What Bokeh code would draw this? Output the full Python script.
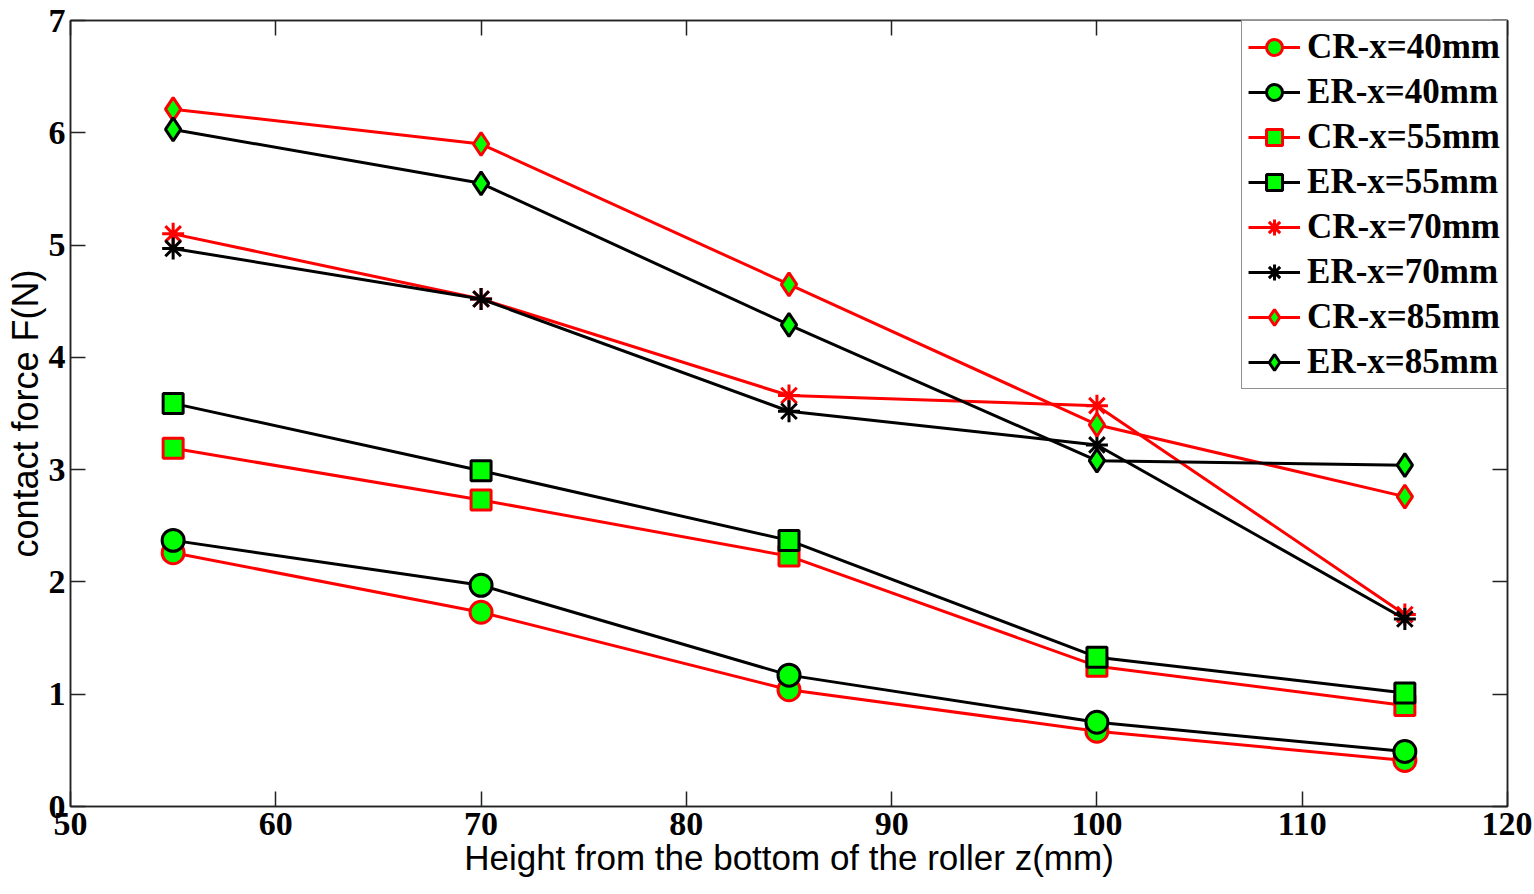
from bokeh.plotting import figure
from bokeh.models import Range1d, FixedTicker, LinearAxis, Legend, LegendItem
from bokeh.embed import file_html
from bokeh.resources import INLINE

z = [55, 70, 85, 100, 115]
cr40 = [2.26, 1.73, 1.04, 0.67, 0.41]
er40 = [2.37, 1.97, 1.17, 0.75, 0.49]
cr55 = [3.19, 2.73, 2.23, 1.25, 0.90]
er55 = [3.59, 2.99, 2.37, 1.33, 1.01]
cr70 = [5.10, 4.52, 3.66, 3.57, 1.71]
er70 = [4.97, 4.52, 3.52, 3.22, 1.67]
cr85 = [6.21, 5.90, 4.65, 3.40, 2.76]
er85 = [6.03, 5.55, 4.29, 3.08, 3.04]

names = ["CR-x=40mm", "ER-x=40mm", "CR-x=55mm", "ER-x=55mm",
         "CR-x=70mm", "ER-x=70mm", "CR-x=85mm", "ER-x=85mm"]
series = [cr40, er40, cr55, er55, cr70, er70, cr85, er85]
markers = ["circle", "circle", "square", "square", "asterisk", "asterisk", "diamond", "diamond"]
sizes = [22, 22, 20, 20, 22, 22, 23, 23]
colors = ["#FF0000", "#000000"] * 4

x_ticks = [50, 60, 70, 80, 90, 100, 110, 120]
y_ticks = [0, 1, 2, 3, 4, 5, 6, 7]

p = figure(width=1532, height=892, output_backend="svg", toolbar_location=None,
           x_range=Range1d(50, 120), y_range=Range1d(0, 7),
           min_border_left=70, min_border_right=25, min_border_top=20, min_border_bottom=86)
p.grid.visible = False
p.outline_line_color = "#222222"
p.outline_line_width = 1.5

axis_color = "#222222"
for ax in p.xaxis:
    ax.ticker = FixedTicker(ticks=x_ticks)
    ax.axis_label = "Height from the bottom of the roller z(mm)"
    ax.axis_label_text_font_size = "35px"
    ax.major_label_standoff = 6
    ax.axis_label_standoff = 0
for ax in p.yaxis:
    ax.ticker = FixedTicker(ticks=y_ticks)
    ax.axis_label = "contact force F(N)"
    ax.axis_label_text_font_size = "36px"
    ax.major_label_standoff = 5
    ax.axis_label_standoff = 0

for ax in list(p.xaxis) + list(p.yaxis):
    ax.major_label_text_font = "Liberation Serif"
    ax.major_label_text_font_style = "bold"
    ax.major_label_text_font_size = "34px"
    ax.major_label_text_color = "black"
    ax.axis_label_text_font = "Liberation Sans"
    ax.axis_label_text_font_style = "normal"
    ax.axis_label_text_color = "black"
    ax.axis_line_color = axis_color
    ax.axis_line_width = 1.5
    ax.major_tick_in = 15
    ax.major_tick_out = 0
    ax.major_tick_line_color = axis_color
    ax.major_tick_line_width = 1.5
    ax.minor_tick_line_color = None

for loc, tk in (("right", y_ticks), ("above", x_ticks)):
    ax = LinearAxis(ticker=FixedTicker(ticks=tk), major_label_text_font_size="1px",
                    major_label_text_color=None,
                    major_label_standoff=0, major_tick_in=15, major_tick_out=0,
                    minor_tick_line_color=None, axis_line_color=axis_color,
                    axis_line_width=1.5, major_tick_line_color=axis_color,
                    major_tick_line_width=1.5)
    p.add_layout(ax, loc)

items = []
for name, ys, mk, sz, col in zip(names, series, markers, sizes, colors):
    ln = p.line(z, ys, line_color=col, line_width=3)
    if mk == "asterisk":
        sc = p.scatter(z, ys, marker=mk, size=sz, line_color=col, line_width=3)
    else:
        sc = p.scatter(z, ys, marker=mk, size=sz, line_color=col, line_width=3,
                       fill_color="#00FF00")
    items.append(LegendItem(label=name, renderers=[ln, sc]))

legend = Legend(items=items, location="top_right", margin=0, padding=6, spacing=5,
                glyph_width=52, glyph_height=40, label_height=40, label_standoff=7,
                label_text_font="Liberation Serif", label_text_font_style="bold",
                label_text_font_size="35px", label_text_color="black",
                border_line_color="#222222", border_line_width=1.5,
                background_fill_color="white", background_fill_alpha=1.0)
p.add_layout(legend, "center")

open("out.html", "w").write(file_html(p, INLINE))
